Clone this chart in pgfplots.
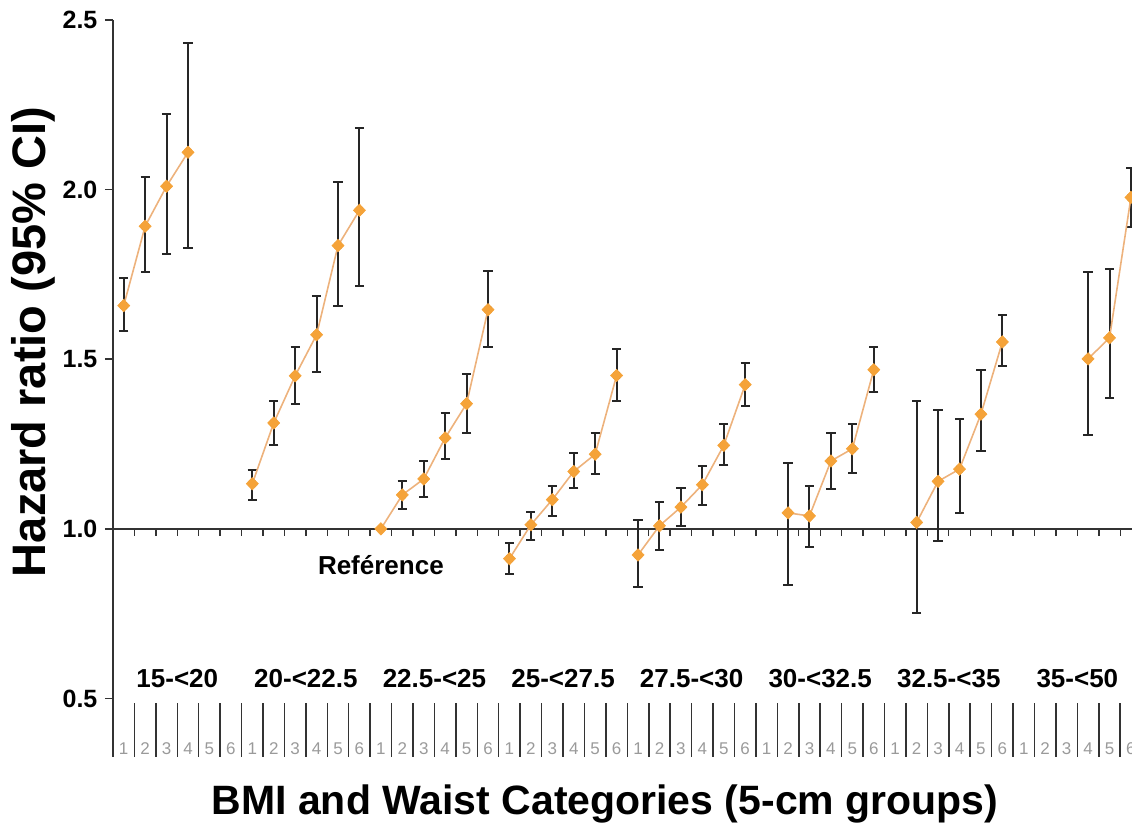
\documentclass[border=0pt]{standalone}
\usepackage{fontspec}
\setmainfont{Liberation Sans}
\usepackage{pgfplots}
\usepackage{pgfplotstable}
\pgfplotsset{compat=1.18}

\definecolor{hrorange}{HTML}{F5A339}
\definecolor{hrline}{HTML}{EDB27C}
\definecolor{barc}{HTML}{262626}
\definecolor{axc}{HTML}{333333}
\definecolor{digc}{HTML}{9A9A9A}

% hazard ratios, slot index = 6*(BMI group) + (waist group - 1); nan breaks the line
\pgfplotstableread{
x y
0 1.658
1 1.892
2 2.010
3 2.110
4 nan
6 1.133
7 1.312
8 1.451
9 1.572
10 1.835
11 1.939
11.5 nan
12 1.000
13 1.100
14 1.147
15 1.268
16 1.369
17 1.646
17.5 nan
18 0.912
19 1.012
20 1.086
21 1.169
22 1.220
23 1.452
23.5 nan
24 0.923
25 1.009
26 1.064
27 1.130
28 1.246
29 1.425
30 nan
31 1.047
32 1.038
33 1.200
34 1.236
35 1.469
36 nan
37 1.019
38 1.140
39 1.176
40 1.338
41 1.551
42 nan
45 1.501
46 1.563
47 1.977
}\hr

% 95% CI (reference category has none)
\pgfplotstableread{
x y lo hi
0 1.658 1.584 1.740
1 1.892 1.756 2.036
2 2.010 1.810 2.224
3 2.110 1.828 2.433
6 1.133 1.086 1.174
7 1.312 1.246 1.378
8 1.451 1.368 1.535
9 1.572 1.463 1.687
10 1.835 1.658 2.022
11 1.939 1.715 2.183
13 1.100 1.058 1.142
14 1.147 1.095 1.201
15 1.268 1.206 1.341
16 1.369 1.283 1.457
17 1.646 1.535 1.761
18 0.912 0.866 0.958
19 1.012 0.968 1.051
20 1.086 1.038 1.125
21 1.169 1.120 1.223
22 1.220 1.161 1.282
23 1.452 1.378 1.530
24 0.923 0.830 1.025
25 1.009 0.938 1.079
26 1.064 1.007 1.120
27 1.130 1.071 1.184
28 1.246 1.187 1.310
29 1.425 1.363 1.490
31 1.047 0.835 1.193
32 1.038 0.947 1.127
33 1.200 1.118 1.283
34 1.236 1.166 1.310
35 1.469 1.403 1.535
37 1.019 0.751 1.378
38 1.140 0.963 1.351
39 1.176 1.048 1.324
40 1.338 1.228 1.467
41 1.551 1.481 1.629
45 1.501 1.277 1.756
46 1.563 1.386 1.766
47 1.977 1.889 2.064
}\ci

\begin{document}
\begin{tikzpicture}
\begin{axis}[
    name=ax,
    scale only axis,
    width=509.5pt, height=368.5pt,
    xmin=-0.5, xmax=47.05,
    ymin=0.3274, ymax=2.5,
    axis y line*=left, axis x line*=bottom,
    x axis line style={draw=none},
    y axis line style={draw=axc, line width=0.8pt},
    xtick={0.5,1.5,...,46.5}, xticklabels={},
    xtick align=inside, ytick align=outside,
    xtick style={draw=axc, line width=0.75pt, /pgfplots/major tick length=27pt},
    ytick style={draw=axc, line width=0.8pt, /pgfplots/major tick length=4pt},
    ytick={0.5,1,1.5,2,2.5},
    yticklabels={0.5,1.0,1.5,2.0,2.5},
    yticklabel style={font=\fontsize{12.5}{14}\selectfont\bfseries},
    extra x ticks={0,...,47},
    extra x tick labels={1,2,3,4,5,6,1,2,3,4,5,6,1,2,3,4,5,6,1,2,3,4,5,6,
        1,2,3,4,5,6,1,2,3,4,5,6,1,2,3,4,5,6,1,2,3,4,5,6},
    extra x tick style={xtick style={draw=none},
        xticklabel style={font=\fontsize{8.5}{10}\selectfont, text=digc,
        anchor=base, yshift=1.5pt}},
    clip marker paths=true,
    unbounded coords=jump,
]
% reference line at HR = 1
\draw[axc, line width=0.8pt] (axis cs:-0.5,1) -- (axis cs:47.05,1);
\pgfplotsinvokeforeach{0.5,1.5,...,46.5}{
    \draw[axc, line width=0.7pt] (axis cs:#1,1) -- ++(0pt,-3.5pt);
}

\addplot[only marks, mark=none,
    error bars/.cd, y dir=both, y explicit,
    error bar style={draw=barc, line width=1pt},
    error mark options={rotate=90, draw=barc, line width=1pt, mark size=2.3pt}]
    table[x=x, y=y,
          y error plus expr=\thisrow{hi}-\thisrow{y},
          y error minus expr=\thisrow{y}-\thisrow{lo}] {\ci};

\addplot[hrline, line width=0.8pt, mark=diamond*,
    mark size=3.1pt,
    mark options={xscale=1.3, fill=hrorange, draw=hrorange, line width=0.3pt}]
    table[x=x, y=y] {\hr};

\begin{scope}[font=\fontsize{13}{15}\selectfont\bfseries]
\node[anchor=base] at (axis cs:2.5,0.531) {15-<20};
\node[anchor=base] at (axis cs:8.5,0.531) {20-<22.5};
\node[anchor=base] at (axis cs:14.5,0.531) {22.5-<25};
\node[anchor=base] at (axis cs:20.5,0.531) {25-<27.5};
\node[anchor=base] at (axis cs:26.5,0.531) {27.5-<30};
\node[anchor=base] at (axis cs:32.5,0.531) {30-<32.5};
\node[anchor=base] at (axis cs:38.5,0.531) {32.5-<35};
\node[anchor=base] at (axis cs:44.5,0.531) {35-<50};
\node[anchor=base] at (axis cs:12,0.864) {Reférence};
\end{scope}
\end{axis}

\node[rotate=90, font=\fontsize{23.5}{28}\selectfont\bfseries]
    at ([xshift=-40pt, yshift=207.5pt]ax.south west) {Hazard ratio (95\% CI)};
\node[anchor=base, font=\fontsize{20.5}{24}\selectfont\bfseries]
    at ([xshift=246pt, yshift=-28.5pt]ax.south west) {BMI and Waist Categories (5-cm groups)};

\pgfresetboundingbox
\path[use as bounding box] ([xshift=-56.5pt, yshift=-35.5pt]ax.south west)
    rectangle ([yshift=10pt]ax.north east);
\end{tikzpicture}
\end{document}
